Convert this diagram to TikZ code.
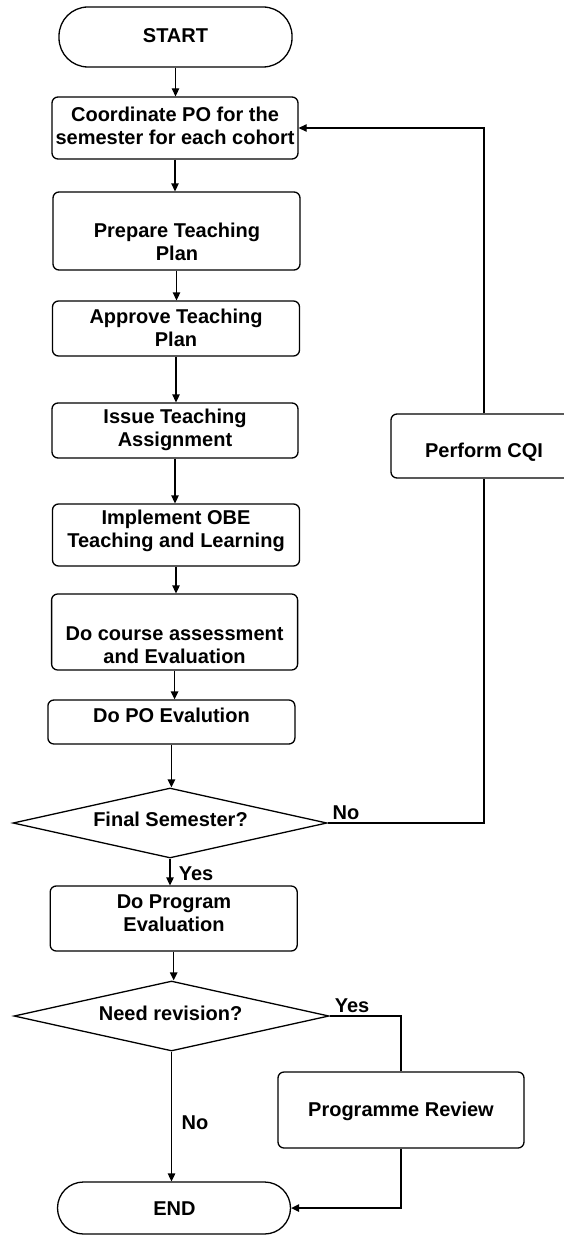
\documentclass[tikz,border=0pt]{standalone}
\usepackage{fontspec}
\setmainfont{Liberation Sans}
\usetikzlibrary{arrows.meta,shapes.geometric}
\tikzset{
  shp/.style={draw, line width=1.3pt, inner sep=0pt},
  box/.style={shp, rounded corners=6pt},
  term/.style={shp, rounded corners=26pt},
  dec/.style={shp, diamond},
  txt/.style={align=center, inner sep=0pt, font=\fontsize{20}{23.5}\selectfont\bfseries},
  lbl/.style={inner sep=0pt, font=\fontsize{20}{23.5}\selectfont\bfseries},
  conn/.style={line width=1.3pt},
  arr/.style={conn, -{Triangle[length=8pt,width=7.5pt]}}
}
\begin{document}
\begin{tikzpicture}[x=1pt,y=-1pt]
\useasboundingbox (0,0) rectangle (564,1236);
\begin{scope}
\clip (0,0) rectangle (564,1236);
% shapes
\node[term, minimum width=233, minimum height=60, rounded corners=29pt] (start) at (175.5,37) {};
\node[box, minimum width=246, minimum height=62] (coord) at (175,128) {};
\node[box, minimum width=247, minimum height=78] (prep) at (176.5,231) {};
\node[box, minimum width=247, minimum height=55] (appr) at (176,328.5) {};
\node[box, minimum width=246, minimum height=55] (issue) at (175,430.5) {};
\node[box, minimum width=247, minimum height=62] (impl) at (176,535) {};
\node[box, minimum width=246, minimum height=76] (course) at (174.6,632) {};
\node[box, minimum width=247, minimum height=44] (po) at (171.4,722) {};
\node[dec, minimum width=314, minimum height=70] (dec1) at (170,823) {};
\node[box, minimum width=247, minimum height=65] (prog) at (173.7,918.5) {};
\node[dec, minimum width=315, minimum height=70] (dec2) at (171.5,1016) {};
\node[box, minimum width=186, minimum height=64] (cqi) at (484,446) {};
\node[box, minimum width=246, minimum height=76] (pr) at (401,1110) {};
\node[term, minimum width=233, minimum height=52] (end) at (174,1208) {};
% texts
\node[txt] (start-t) at (175.5,36) {START};
\node[txt] (coord-t) at (175,126) {Coordinate PO for the\\semester for each cohort};
\node[txt] (prep-t) at (177,242) {Prepare Teaching\\Plan};
\node[txt] (appr-t) at (176,328) {Approve Teaching\\Plan};
\node[txt] (issue-t) at (175,430) {Issue Teaching\\Assignment};
\node[txt] (impl-t) at (176,531) {Implement OBE\\Teaching and Learning};
\node[txt] (course-t) at (174.6,645) {Do course assessment\\and Evaluation};
\node[txt] (po-t) at (171.4,715) {Do PO Evalution};
\node[txt] (dec1-t) at (170.5,819) {Final Semester?};
\node[txt] (prog-t) at (174,913) {Do Program\\Evaluation};
\node[txt] (dec2-t) at (170.6,1013) {Need revision?};
\node[txt] (cqi-t) at (484,452) {Perform CQI};
\node[txt] (pr-t) at (401,1111) {Programme Review};
\node[txt] (end-t) at (174.5,1209) {END};
% labels
\node[lbl] (no1) at (346,813) {No};
\node[lbl] (yes1) at (196,874) {Yes};
\node[lbl] (yes2) at (352,1006) {Yes};
\node[lbl] (no2) at (195,1123) {No};
% connectors
\draw[arr] (start.south) -- (start.south |- coord.north);
\draw[arr] (coord.south) -- (coord.south |- prep.north);
\draw[arr] (prep.south) -- (prep.south |- appr.north);
\draw[arr] (appr.south) -- (appr.south |- issue.north);
\draw[arr] (issue.south) -- (issue.south |- impl.north);
\draw[arr] (impl.south) -- (impl.south |- course.north);
\draw[arr] (course.south) -- (course.south |- po.north);
\draw[arr] (po.south) -- (po.south |- dec1.north);
\draw[arr] (dec1.south) -- (dec1.south |- prog.north);
\draw[arr] (prog.south) -- (prog.south |- dec2.north);
\draw[arr] (dec2.south) -- (dec2.south |- end.north);
\draw[conn] (dec1.east) -| (cqi.south);
\draw[arr] (cqi.north) |- (coord.east);
\draw[conn] (dec2.east) -| (pr.north);
\draw[arr] (pr.south) |- (end.east);
\end{scope}
\end{tikzpicture}
\end{document}
